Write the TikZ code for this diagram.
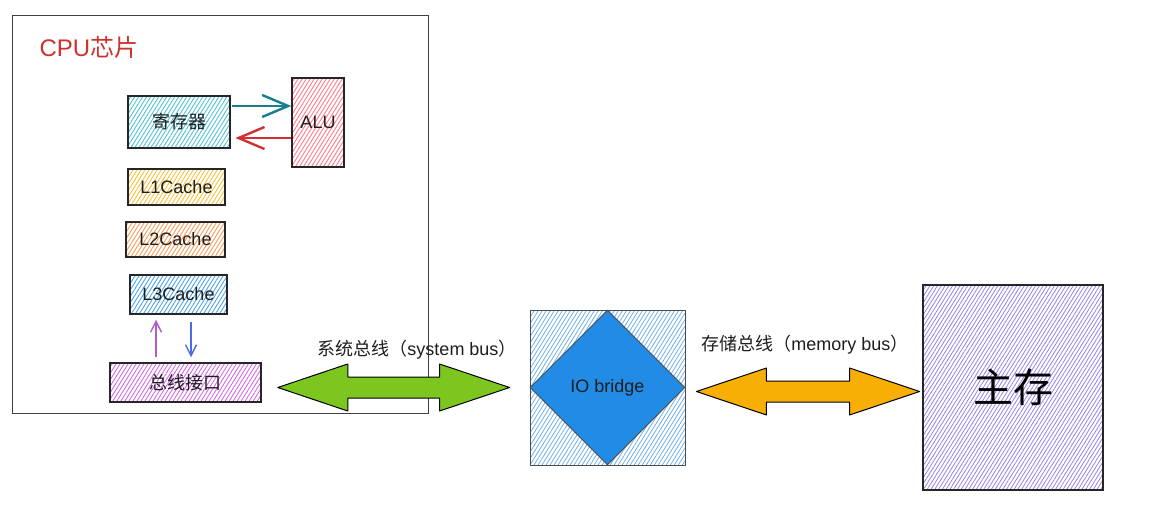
\documentclass[tikz,border=0pt]{standalone}
\usepackage{fontspec}
\setmainfont{Liberation Sans}
\newfontfamily\cjk{Noto Sans CJK SC}
\usetikzlibrary{patterns.meta,shapes.geometric,arrows.meta,calc}
\definecolor{txt}{HTML}{1E1E1E}
\definecolor{cpured}{HTML}{D0312D}
\definecolor{hreg}{HTML}{4FC3D4}
\definecolor{halu}{HTML}{FF7B8A}
\definecolor{hl1}{HTML}{F8C13A}
\definecolor{hl2}{HTML}{F79A55}
\definecolor{hl3}{HTML}{4CA3E8}
\definecolor{hbus}{HTML}{D46BE6}
\definecolor{hio}{HTML}{6FB0E8}
\definecolor{hmem}{HTML}{9C7FE8}
\definecolor{diam}{HTML}{228BE6}
\definecolor{tealc}{HTML}{167E8F}
\definecolor{redarr}{HTML}{D22F32}
\definecolor{purarr}{HTML}{B05CCF}
\definecolor{bluarr}{HTML}{4F6BDD}
\definecolor{greenc}{HTML}{7CC61F}
\definecolor{orangec}{HTML}{F7AE05}
\tikzset{
  hbox/.style={draw=black!85, line width=1.5pt, inner sep=0pt,
     pattern={Lines[angle=58,distance=3.4pt,line width=0.9pt]}, pattern color=#1,
     text=txt, font=\fontsize{18}{20}\selectfont},
  bigarrow/.style={draw=black, line width=1pt, line join=round, fill=#1},
  thinarr/.style={line width=1.4pt, -{Straight Barb[length=11pt,width=11pt,line width=1.4pt]}, draw=#1},
  fatarr/.style={line width=2.4pt, -{Straight Barb[length=26pt,width=22pt,line width=2.4pt]}, draw=#1},
  lbl/.style={text=txt, font=\fontsize{18}{20}\selectfont, inner sep=0pt}
}
\newcommand\dblarrow[3]{\draw[bigarrow=#3] (#1) -- ($(#1)+(70,-23.5)$) -- ($(#1)+(70,-10.5)$) -- ($(#2)+(-70,-10.5)$) -- ($(#2)+(-70,-23.5)$) -- (#2) -- ($(#2)+(-70,23.5)$) -- ($(#2)+(-70,10.5)$) -- ($(#1)+(70,10.5)$) -- ($(#1)+(70,23.5)$) -- cycle;}
\begin{document}
\begin{tikzpicture}[x=1pt,y=-1pt]
\useasboundingbox[fill=white] (0,0) rectangle (1163,524);
% CPU chip
\node[draw=black!75, line width=1pt, minimum width=416pt, minimum height=397pt, inner sep=0pt] (cpu) at (220,214.5) {};
\node[text=cpured, font=\fontsize{24}{26}\selectfont, inner sep=0pt] (title) at (89,47) {CPU{\cjk 芯片}};
\node[hbox=hreg, minimum width=102pt, minimum height=52pt] (reg) at (179,122) {\cjk 寄存器};
\node[hbox=halu, minimum width=52pt, minimum height=89pt] (alu) at (318,122.5) {ALU};
\node[hbox=hl1, minimum width=97pt, minimum height=36pt] (l1) at (176.5,187) {L1Cache};
\node[hbox=hl2, minimum width=99pt, minimum height=35pt] (l2) at (175.5,239.5) {L2Cache};
\node[hbox=hl3, minimum width=97pt, minimum height=39pt] (l3) at (178.5,294.5) {L3Cache};
\node[hbox=hbus, minimum width=151pt, minimum height=39pt] (bus) at (185.5,382.5) {\cjk 总线接口};
% arrows inside CPU
\draw[fatarr=tealc] ($(reg.east)+(2,-16)$) -- ($(alu.west |- reg.east)+(0,-16)$);
\draw[fatarr=redarr] ($(alu.west |- reg.east)+(0,16)$) -- ($(reg.east)+(5,16)$);
\draw[thinarr=purarr] ($(l3.south |- bus.north)+(-22.5,-5)$) -- ($(l3.south)+(-22.5,5)$);
\draw[thinarr=bluarr] ($(l3.south)+(12.5,7)$) -- ($(l3.south |- bus.north)+(12.5,-5)$);
% IO bridge
\node[draw=black!70, line width=0.9pt, minimum width=155pt, minimum height=155pt, inner sep=0pt,
      pattern={Lines[angle=58,distance=3.4pt,line width=0.8pt]}, pattern color=hio] (iobox) at (607.5,387.5) {};
\node[diamond, aspect=1, draw=black!70, line width=0.9pt, fill=diam, minimum width=155pt, minimum height=155pt,
      inner sep=0pt, text=txt, font=\fontsize{18}{20}\selectfont] (io) at (iobox.center) {IO bridge};
% main memory
\node[draw=black!85, line width=1.5pt, minimum width=180pt, minimum height=205pt, inner sep=0pt,
      pattern={Lines[angle=58,distance=3.2pt,line width=0.8pt]}, pattern color=hmem,
      text=black, font=\fontsize{40}{44}\selectfont\cjk] (mem) at (1013,387.5) {主存};
% buses
\coordinate (sbL) at ($(bus.east |- io.west)+(16,0)$);
\coordinate (sbR) at ($(io.west)+(-20,0)$);
\dblarrow{sbL}{sbR}{greenc}
\coordinate (mbL) at ($(io.east)+(11,4)$);
\coordinate (mbR) at ($(mem.west |- mbL)+(-3,0)$);
\dblarrow{mbL}{mbR}{orangec}
\node[lbl] (sblabel) at (417,350) {{\cjk 系统总线（}system bus{\cjk ）}};
\node[lbl] (mblabel) at (805,345) {{\cjk 存储总线（}memory bus{\cjk ）}};
\end{tikzpicture}
\end{document}
